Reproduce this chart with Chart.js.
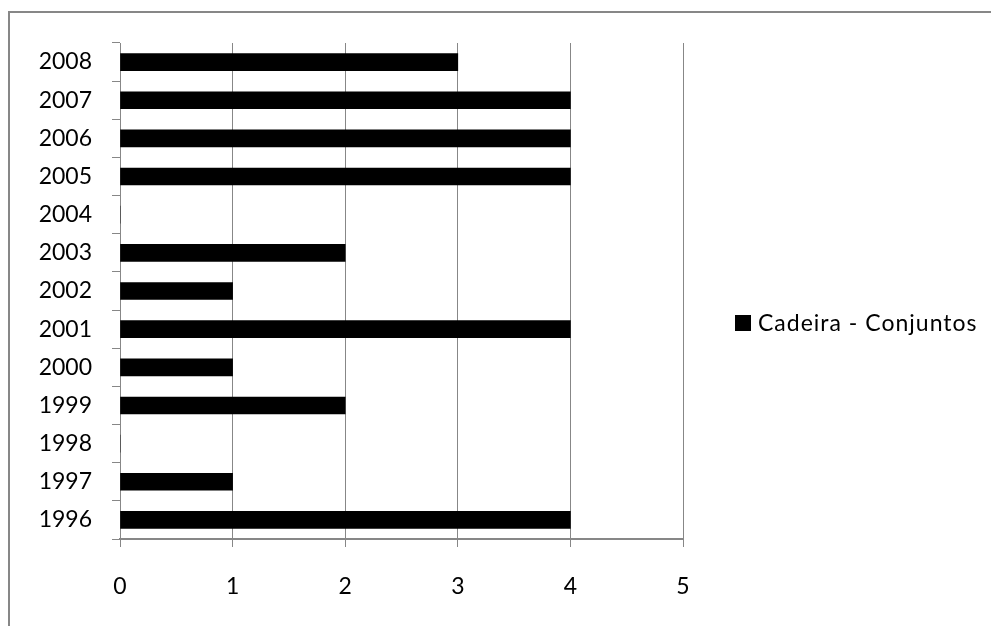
<!DOCTYPE html>
<html>
<head>
<meta charset="utf-8">
<script src="https://cdn.jsdelivr.net/npm/chart.js@4.4.1/dist/chart.umd.min.js"></script>
<style>
  html, body { margin: 0; padding: 0; background: #fff; overflow: hidden; }
  #wrap { width: 991px; height: 626px; position: relative; }
</style>
</head>
<body>
<div id="wrap"><canvas id="chart" width="991" height="626"></canvas></div>
<script>
const years = ['1996', '1997', '1998', '1999', '2000', '2001', '2002', '2003', '2004', '2005', '2006', '2007', '2008'];
const conjuntos = [4, 1, 0, 2, 1, 4, 1, 2, 0, 4, 4, 4, 3];
const seriesName = 'Cadeira - Conjuntos';
const xTicks = [0, 1, 2, 3, 4, 5];

const FONT = 'Lato';
const GRID = '#878787';

// outer frame (only top/left edges fall inside the picture) + side legend
const frameAndLegend = {
    id: 'frameAndLegend',
    beforeDraw(chart) {
        const c = chart.ctx;
        c.save();
        c.fillStyle = '#fff';
        c.fillRect(0, 0, chart.width, chart.height);
        c.strokeStyle = GRID;
        c.lineWidth = 2;
        c.strokeRect(9, 12, 1200, 800);
        c.restore();
    },
    afterDraw(chart) {
        const c = chart.ctx;
        const ds = chart.data.datasets[0];
        c.save();
        c.fillStyle = ds.backgroundColor;
        c.fillRect(735, 315, 16, 16);
        c.fillStyle = '#000';
        c.font = '23px ' + FONT;
        c.letterSpacing = '1px';
        c.textBaseline = 'middle';
        c.textAlign = 'left';
        c.fillText(ds.label, 758, 324);
        c.restore();
    }
};

new Chart(document.getElementById('chart'), {
    type: 'bar',
    data: {
        labels: years,
        datasets: [{
            label: seriesName,
            data: conjuntos,
            backgroundColor: '#000',
            barThickness: 17
        }]
    },
    options: {
        indexAxis: 'y',
        responsive: false,
        animation: false,
        layout: { padding: { left: 39, right: 308, top: 43, bottom: 27 } },
        plugins: {
            legend: { display: false },
            tooltip: { enabled: false }
        },
        scales: {
            y: {
                reverse: true,
                offset: true,
                grid: {
                    offset: true,
                    drawOnChartArea: false,
                    drawTicks: true,
                    tickLength: 8,
                    color: GRID,
                    lineWidth: 1
                },
                border: { color: GRID, width: 1 },
                ticks: {
                    color: '#000',
                    padding: 20,
                    font: { family: FONT, size: 23 }
                },
                afterFit(scale) { scale.width = 81; }
            },
            x: {
                min: xTicks[0],
                max: xTicks[xTicks.length - 1],
                afterBuildTicks(scale) {
                    scale.ticks = xTicks.map(v => ({ value: v }));
                },
                grid: {
                    color: GRID,
                    lineWidth: 1,
                    tickLength: 8
                },
                border: { color: GRID, width: 2 },
                ticks: {
                    color: '#000',
                    padding: 26,
                    font: { family: FONT, size: 23 }
                },
                afterFit(scale) { scale.height = 60; }
            }
        }
    },
    plugins: [frameAndLegend]
});
</script>
</body>
</html>
